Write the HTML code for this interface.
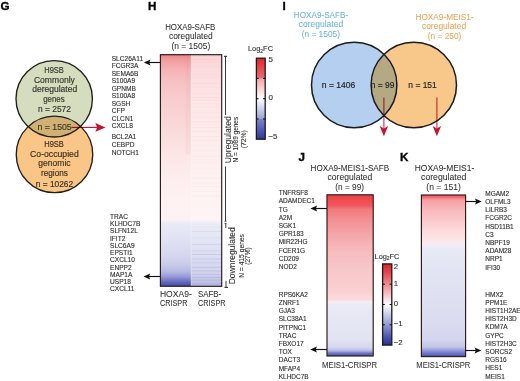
<!DOCTYPE html>
<html><head><meta charset="utf-8"><style>
html,body{margin:0;padding:0;background:#fff;}
svg{display:block;font-family:"Liberation Sans", sans-serif;will-change:transform;}
</style></head><body>
<svg width="520" height="381" viewBox="0 0 520 381">
<defs>
<clipPath id="gtop"><circle cx="54.2" cy="98.75" r="38.2"/></clipPath>
<linearGradient id="hL" x1="0" y1="54.5" x2="0" y2="286" gradientUnits="userSpaceOnUse">
<stop offset="0.0" stop-color="#ee8082"/>
<stop offset="0.0108" stop-color="#f09092"/>
<stop offset="0.0324" stop-color="#f3a2a4"/>
<stop offset="0.067" stop-color="#f5b4b6"/>
<stop offset="0.1188" stop-color="#f6c2c4"/>
<stop offset="0.1965" stop-color="#f8cdcf"/>
<stop offset="0.3261" stop-color="#fadadb"/>
<stop offset="0.4125" stop-color="#fce4e4"/>
<stop offset="0.5205" stop-color="#fdeced"/>
<stop offset="0.6285" stop-color="#fef2f2"/>
<stop offset="0.7127" stop-color="#fdf2f2"/>
<stop offset="0.73" stop-color="#eaeaf6"/>
<stop offset="0.8013" stop-color="#e0e1f3"/>
<stop offset="0.8661" stop-color="#d6d7ef"/>
<stop offset="0.9093" stop-color="#c8cae9"/>
<stop offset="0.9395" stop-color="#b4b7e2"/>
<stop offset="0.9611" stop-color="#9297d3"/>
<stop offset="0.9784" stop-color="#6c72c0"/>
<stop offset="1.0" stop-color="#434aa4"/>
</linearGradient>
<linearGradient id="hR" x1="0" y1="54.5" x2="0" y2="286" gradientUnits="userSpaceOnUse">
<stop offset="0.0" stop-color="#fbd3d5"/>
<stop offset="0.067" stop-color="#fcdcde"/>
<stop offset="0.1965" stop-color="#fde6e7"/>
<stop offset="0.4125" stop-color="#fdeeee"/>
<stop offset="0.6285" stop-color="#fef3f3"/>
<stop offset="0.7127" stop-color="#fef4f4"/>
<stop offset="0.73" stop-color="#ececf7"/>
<stop offset="0.8013" stop-color="#e4e5f4"/>
<stop offset="0.8877" stop-color="#dadcf0"/>
<stop offset="0.9525" stop-color="#cfd1ec"/>
<stop offset="1.0" stop-color="#b8bbe2"/>
</linearGradient>
<linearGradient id="cb" x1="0" y1="0" x2="0" y2="1">
<stop offset="0" stop-color="#e4242b"/>
<stop offset="0.08" stop-color="#ea3840"/>
<stop offset="0.245" stop-color="#ea6a70"/>
<stop offset="0.255" stop-color="#f2a6aa"/>
<stop offset="0.5" stop-color="#ffffff"/>
<stop offset="0.745" stop-color="#9ea2d8"/>
<stop offset="0.755" stop-color="#7c82c8"/>
<stop offset="0.9" stop-color="#4c56b4"/>
<stop offset="1" stop-color="#2e3898"/>
</linearGradient>
<linearGradient id="cb2" x1="0" y1="0" x2="0" y2="1">
<stop offset="0" stop-color="#d8222a"/>
<stop offset="0.1" stop-color="#e2444a"/>
<stop offset="0.25" stop-color="#ee8a90"/>
<stop offset="0.5" stop-color="#ffffff"/>
<stop offset="0.75" stop-color="#9498d2"/>
<stop offset="0.9" stop-color="#4a54b0"/>
<stop offset="1" stop-color="#26328e"/>
</linearGradient>
<clipPath id="iblue"><circle cx="354.2" cy="85.0" r="42.7"/></clipPath>
<linearGradient id="jG" x1="0" y1="194.4" x2="0" y2="356" gradientUnits="userSpaceOnUse">
<stop offset="0.0" stop-color="#ee4046"/>
<stop offset="0.0347" stop-color="#f04a50"/>
<stop offset="0.0718" stop-color="#f2595e"/>
<stop offset="0.0903" stop-color="#f2787c"/>
<stop offset="0.1584" stop-color="#f39094"/>
<stop offset="0.2512" stop-color="#f5a6a9"/>
<stop offset="0.3441" stop-color="#f7bbbd"/>
<stop offset="0.4678" stop-color="#f8c7c9"/>
<stop offset="0.5916" stop-color="#facfd1"/>
<stop offset="0.6504" stop-color="#fbdcdc"/>
<stop offset="0.6677" stop-color="#f6eef2"/>
<stop offset="0.6844" stop-color="#eaeaf5"/>
<stop offset="0.901" stop-color="#e2e3f2"/>
<stop offset="0.9505" stop-color="#d4d6ee"/>
<stop offset="0.9691" stop-color="#b0b4e0"/>
<stop offset="0.9814" stop-color="#7078c4"/>
<stop offset="1.0" stop-color="#4a52aa"/>
</linearGradient>
<linearGradient id="kG" x1="0" y1="194.6" x2="0" y2="356.6" gradientUnits="userSpaceOnUse">
<stop offset="0.0" stop-color="#f4585f"/>
<stop offset="0.0148" stop-color="#f4686e"/>
<stop offset="0.0333" stop-color="#f69ea2"/>
<stop offset="0.0642" stop-color="#f7acaf"/>
<stop offset="0.0951" stop-color="#f8b9bc"/>
<stop offset="0.1568" stop-color="#fac8ca"/>
<stop offset="0.2185" stop-color="#fcdadb"/>
<stop offset="0.2802" stop-color="#fde5e6"/>
<stop offset="0.3049" stop-color="#f4eef4"/>
<stop offset="0.3358" stop-color="#e8e9f6"/>
<stop offset="0.5272" stop-color="#e1e2f2"/>
<stop offset="0.7741" stop-color="#dcdcf0"/>
<stop offset="0.8975" stop-color="#d4d5ee"/>
<stop offset="0.9407" stop-color="#c2c4e8"/>
<stop offset="0.9716" stop-color="#7e86d0"/>
<stop offset="1.0" stop-color="#4650b0"/>
</linearGradient>
</defs>
<rect width="520" height="381" fill="#fff"/>
<text x="0.4" y="9.8" font-size="11.6" fill="#000" font-weight="bold" stroke="#000" stroke-width="0.35">G</text>
<text x="148.0" y="9.9" font-size="11.6" fill="#000" font-weight="bold" stroke="#000" stroke-width="0.35">H</text>
<text x="282.5" y="9.8" font-size="11.6" fill="#000" font-weight="bold" stroke="#000" stroke-width="0.35">I</text>
<text x="298.5" y="161.1" font-size="11.6" fill="#000" font-weight="bold" stroke="#000" stroke-width="0.35">J</text>
<text x="400.0" y="161.1" font-size="11.6" fill="#000" font-weight="bold" stroke="#000" stroke-width="0.35">K</text>
<circle cx="54.2" cy="98.75" r="38.2" fill="#d6ddbe"/>
<circle cx="54.5" cy="154.4" r="38.25" fill="#f9c688"/>
<circle cx="54.5" cy="154.4" r="38.25" fill="#cfb273" clip-path="url(#gtop)"/>
<circle cx="54.2" cy="98.75" r="38.2" fill="none" stroke="#221e18" stroke-width="1.35"/>
<circle cx="54.5" cy="154.4" r="38.25" fill="none" stroke="#221e18" stroke-width="1.35"/>
<text x="44.25" y="72.9" font-size="8.2" fill="#36362c" textLength="19.6" lengthAdjust="spacingAndGlyphs" stroke="#36362c" stroke-width="0.16">H9SB</text>
<text x="33.95" y="82.9" font-size="8.2" fill="#36362c" textLength="40.9" lengthAdjust="spacingAndGlyphs" stroke="#36362c" stroke-width="0.16">Commonly</text>
<text x="32.15" y="92.3" font-size="8.2" fill="#36362c" textLength="45.1" lengthAdjust="spacingAndGlyphs" stroke="#36362c" stroke-width="0.16">deregulated</text>
<text x="43.15" y="102.3" font-size="8.2" fill="#36362c" textLength="21.5" lengthAdjust="spacingAndGlyphs" stroke="#36362c" stroke-width="0.16">genes</text>
<text x="37.95" y="112.3" font-size="8.2" fill="#36362c" textLength="33.0" lengthAdjust="spacingAndGlyphs" stroke="#36362c" stroke-width="0.16">n = 2572</text>
<text x="37.45" y="130.0" font-size="8.2" fill="#463a22" textLength="34.3" lengthAdjust="spacingAndGlyphs" stroke="#463a22" stroke-width="0.16">n = 1505</text>
<text x="44.25" y="147.3" font-size="8.2" fill="#3e2e20" textLength="19.6" lengthAdjust="spacingAndGlyphs" stroke="#3e2e20" stroke-width="0.16">H9SB</text>
<text x="30.05" y="156.6" font-size="8.2" fill="#3e2e20" textLength="48.7" lengthAdjust="spacingAndGlyphs" stroke="#3e2e20" stroke-width="0.16">Co-occupied</text>
<text x="38.35" y="166.3" font-size="8.2" fill="#3e2e20" textLength="32.2" lengthAdjust="spacingAndGlyphs" stroke="#3e2e20" stroke-width="0.16">genomic</text>
<text x="40.95" y="176.2" font-size="8.2" fill="#3e2e20" textLength="27.0" lengthAdjust="spacingAndGlyphs" stroke="#3e2e20" stroke-width="0.16">regions</text>
<text x="35.75" y="186.5" font-size="8.2" fill="#3e2e20" textLength="37.4" lengthAdjust="spacingAndGlyphs" stroke="#3e2e20" stroke-width="0.16">n = 10262</text>
<line x1="71.5" y1="127.4" x2="97" y2="127.4" stroke="#c0183a" stroke-width="1.15" style="mix-blend-mode:multiply"/>
<path d="M105.5,127.4 L95.3,123.1 L97.2,127.4 L95.3,131.7 Z" fill="#c5122f"/>
<text x="165.15" y="30.25" font-size="8.4" fill="#303030" textLength="50.1" lengthAdjust="spacingAndGlyphs" stroke="#303030" stroke-width="0.06">HOXA9-SAFB</text>
<text x="168.95" y="39.25" font-size="8.4" fill="#303030" textLength="43.8" lengthAdjust="spacingAndGlyphs" stroke="#303030" stroke-width="0.06">coregulated</text>
<text x="171.45" y="48.6" font-size="8.4" fill="#303030" textLength="38.8" lengthAdjust="spacingAndGlyphs" stroke="#303030" stroke-width="0.06">(n = 1505)</text>
<rect x="160.4" y="54.5" width="30.6" height="231.5" fill="url(#hL)"/>
<rect x="191" y="54.5" width="30.5" height="231.5" fill="url(#hR)"/>
<rect x="185.5" y="54.5" width="5.5" height="100" fill="#c06060" opacity="0.05"/>
<rect x="190.6" y="54.5" width="0.9" height="231.5" fill="#ffffff" opacity="0.35"/>
<rect x="191.5" y="56.0" width="30" height="0.8" fill="#d07070" opacity="0.05"/>
<rect x="191.5" y="59.1" width="30" height="0.8" fill="#d07070" opacity="0.06"/>
<rect x="191.5" y="61.9" width="30" height="0.8" fill="#d07070" opacity="0.06"/>
<rect x="191.5" y="65.9" width="30" height="0.8" fill="#d07070" opacity="0.03"/>
<rect x="191.5" y="70.4" width="30" height="0.8" fill="#d07070" opacity="0.03"/>
<rect x="191.5" y="74.6" width="30" height="0.8" fill="#d07070" opacity="0.03"/>
<rect x="191.5" y="77.5" width="30" height="0.8" fill="#d07070" opacity="0.05"/>
<rect x="191.5" y="83.3" width="30" height="0.8" fill="#d07070" opacity="0.04"/>
<rect x="191.5" y="86.7" width="30" height="0.8" fill="#d07070" opacity="0.06"/>
<rect x="191.5" y="93.0" width="30" height="0.8" fill="#d07070" opacity="0.06"/>
<rect x="191.5" y="97.1" width="30" height="0.8" fill="#d07070" opacity="0.08"/>
<rect x="191.5" y="99.7" width="30" height="0.8" fill="#d07070" opacity="0.07"/>
<rect x="191.5" y="103.4" width="30" height="0.8" fill="#d07070" opacity="0.04"/>
<rect x="191.5" y="106.4" width="30" height="0.8" fill="#d07070" opacity="0.05"/>
<rect x="191.5" y="112.1" width="30" height="0.8" fill="#d07070" opacity="0.04"/>
<rect x="191.5" y="117.0" width="30" height="0.8" fill="#d07070" opacity="0.06"/>
<rect x="191.5" y="121.0" width="30" height="0.8" fill="#d07070" opacity="0.06"/>
<rect x="191.5" y="123.7" width="30" height="0.8" fill="#d07070" opacity="0.03"/>
<rect x="191.5" y="127.0" width="30" height="0.8" fill="#d07070" opacity="0.06"/>
<rect x="191.5" y="131.2" width="30" height="0.8" fill="#d07070" opacity="0.05"/>
<rect x="191.5" y="136.1" width="30" height="0.8" fill="#d07070" opacity="0.05"/>
<rect x="191.5" y="139.8" width="30" height="0.8" fill="#d07070" opacity="0.07"/>
<rect x="191.5" y="145.1" width="30" height="0.8" fill="#d07070" opacity="0.03"/>
<rect x="191.5" y="149.9" width="30" height="0.8" fill="#d07070" opacity="0.03"/>
<rect x="191.5" y="155.9" width="30" height="0.8" fill="#d07070" opacity="0.04"/>
<rect x="191.5" y="159.5" width="30" height="0.8" fill="#d07070" opacity="0.05"/>
<rect x="191.5" y="162.5" width="30" height="0.8" fill="#d07070" opacity="0.03"/>
<rect x="191.5" y="168.0" width="30" height="0.8" fill="#d07070" opacity="0.02"/>
<rect x="191.5" y="172.5" width="30" height="0.8" fill="#d07070" opacity="0.02"/>
<rect x="191.5" y="177.7" width="30" height="0.8" fill="#d07070" opacity="0.04"/>
<rect x="191.5" y="182.5" width="30" height="0.8" fill="#d07070" opacity="0.04"/>
<rect x="191.5" y="186.2" width="30" height="0.8" fill="#d07070" opacity="0.04"/>
<rect x="191.5" y="191.1" width="30" height="0.8" fill="#d07070" opacity="0.04"/>
<rect x="191.5" y="195.4" width="30" height="0.8" fill="#d07070" opacity="0.04"/>
<rect x="191.5" y="226.5" width="30" height="1" fill="#5058b0" opacity="0.06"/>
<rect x="191.5" y="231.0" width="30" height="1" fill="#5058b0" opacity="0.08"/>
<rect x="191.5" y="237.4" width="30" height="1" fill="#5058b0" opacity="0.06"/>
<rect x="191.5" y="243.9" width="30" height="1" fill="#5058b0" opacity="0.10"/>
<rect x="191.5" y="250.3" width="30" height="1" fill="#5058b0" opacity="0.11"/>
<rect x="191.5" y="254.0" width="30" height="1" fill="#5058b0" opacity="0.13"/>
<rect x="191.5" y="258.5" width="30" height="1" fill="#5058b0" opacity="0.13"/>
<rect x="191.5" y="262.2" width="30" height="1" fill="#5058b0" opacity="0.11"/>
<rect x="191.5" y="266.8" width="30" height="1" fill="#5058b0" opacity="0.13"/>
<rect x="191.5" y="270.5" width="30" height="1" fill="#5058b0" opacity="0.14"/>
<rect x="191.5" y="274.1" width="30" height="1" fill="#5058b0" opacity="0.12"/>
<rect x="191.5" y="276.9" width="30" height="1" fill="#5058b0" opacity="0.15"/>
<rect x="191.5" y="279.6" width="30" height="1" fill="#5058b0" opacity="0.14"/>
<rect x="191.5" y="283.3" width="30" height="1" fill="#5058b0" opacity="0.14"/>
<rect x="160.4" y="54.7" width="61.3" height="231.6" fill="none" stroke="#231a1a" stroke-width="1.15"/>
<text x="111.7" y="60.7" font-size="6.6" fill="#2e2e2e" stroke="#2e2e2e" stroke-width="0.12">SLC26A11</text>
<text x="111.7" y="68.2" font-size="6.6" fill="#2e2e2e" stroke="#2e2e2e" stroke-width="0.12">FCGR3A</text>
<text x="111.7" y="75.7" font-size="6.6" fill="#2e2e2e" stroke="#2e2e2e" stroke-width="0.12">SEMA6B</text>
<text x="111.7" y="83.2" font-size="6.6" fill="#2e2e2e" stroke="#2e2e2e" stroke-width="0.12">S100A9</text>
<text x="111.7" y="90.7" font-size="6.6" fill="#2e2e2e" stroke="#2e2e2e" stroke-width="0.12">GPNMB</text>
<text x="111.7" y="98.2" font-size="6.6" fill="#2e2e2e" stroke="#2e2e2e" stroke-width="0.12">S100A8</text>
<text x="111.7" y="105.7" font-size="6.6" fill="#2e2e2e" stroke="#2e2e2e" stroke-width="0.12">SGSH</text>
<text x="111.7" y="113.2" font-size="6.6" fill="#2e2e2e" stroke="#2e2e2e" stroke-width="0.12">CFP</text>
<text x="111.7" y="120.7" font-size="6.6" fill="#2e2e2e" stroke="#2e2e2e" stroke-width="0.12">CLCN1</text>
<text x="111.7" y="128.2" font-size="6.6" fill="#2e2e2e" stroke="#2e2e2e" stroke-width="0.12">CXCL8</text>
<text x="111.7" y="138.8" font-size="6.6" fill="#2e2e2e" stroke="#2e2e2e" stroke-width="0.12">BCL2A1</text>
<text x="111.7" y="146.9" font-size="6.6" fill="#2e2e2e" stroke="#2e2e2e" stroke-width="0.12">CEBPD</text>
<text x="111.7" y="155.0" font-size="6.6" fill="#2e2e2e" stroke="#2e2e2e" stroke-width="0.12">NOTCH1</text>
<text x="110.0" y="218.8" font-size="6.6" fill="#2e2e2e" stroke="#2e2e2e" stroke-width="0.12">TRAC</text>
<text x="110.0" y="226.05" font-size="6.6" fill="#2e2e2e" stroke="#2e2e2e" stroke-width="0.12">KLHDC7B</text>
<text x="110.0" y="233.3" font-size="6.6" fill="#2e2e2e" stroke="#2e2e2e" stroke-width="0.12">SLFN12L</text>
<text x="110.0" y="240.55" font-size="6.6" fill="#2e2e2e" stroke="#2e2e2e" stroke-width="0.12">IFIT2</text>
<text x="110.0" y="247.8" font-size="6.6" fill="#2e2e2e" stroke="#2e2e2e" stroke-width="0.12">SLC6A9</text>
<text x="110.0" y="255.05" font-size="6.6" fill="#2e2e2e" stroke="#2e2e2e" stroke-width="0.12">EPSTI1</text>
<text x="110.0" y="262.3" font-size="6.6" fill="#2e2e2e" stroke="#2e2e2e" stroke-width="0.12">CXCL10</text>
<text x="110.0" y="269.55" font-size="6.6" fill="#2e2e2e" stroke="#2e2e2e" stroke-width="0.12">ENPP2</text>
<text x="110.0" y="276.8" font-size="6.6" fill="#2e2e2e" stroke="#2e2e2e" stroke-width="0.12">MAP1A</text>
<text x="110.0" y="284.05" font-size="6.6" fill="#2e2e2e" stroke="#2e2e2e" stroke-width="0.12">USP18</text>
<text x="110.0" y="291.3" font-size="6.6" fill="#2e2e2e" stroke="#2e2e2e" stroke-width="0.12">CXCL11</text>
<line x1="147.8" y1="62.5" x2="160" y2="62.5" stroke="#111" stroke-width="1.15"/>
<path d="M143.8,62.5 L150.5,59.6 L149.3,62.5 L150.5,65.4 Z" fill="#111"/>
<line x1="147.5" y1="276.5" x2="160" y2="276.5" stroke="#111" stroke-width="1.15"/>
<path d="M143.5,276.5 L150.2,273.6 L149.0,276.5 L150.2,279.4 Z" fill="#111"/>
<line x1="225.5" y1="56.3" x2="225.5" y2="115" stroke="#222" stroke-width="0.9"/>
<line x1="225.5" y1="166.5" x2="225.5" y2="221.2" stroke="#222" stroke-width="0.9"/>
<line x1="224" y1="56.3" x2="227" y2="56.3" stroke="#222" stroke-width="1"/>
<line x1="224.5" y1="221.2" x2="226.5" y2="221.2" stroke="#222" stroke-width="0.8"/>
<line x1="224.5" y1="223.3" x2="226.5" y2="223.3" stroke="#222" stroke-width="0.8"/>
<line x1="225.8" y1="223.3" x2="225.8" y2="228" stroke="#222" stroke-width="0.9"/>
<line x1="226" y1="280.8" x2="226" y2="287.4" stroke="#222" stroke-width="0.9"/>
<line x1="224.5" y1="287.4" x2="228" y2="287.4" stroke="#222" stroke-width="1"/>
<text transform="translate(230.9,163.15) rotate(-90)" x="0" y="0" font-size="8.2" fill="#303030" stroke="#303030" stroke-width="0.06" textLength="46.9" lengthAdjust="spacingAndGlyphs">Upregulated</text>
<text transform="translate(238.4,162.54999999999998) rotate(-90)" x="0" y="0" font-size="6.4" fill="#303030" stroke="#303030" stroke-width="0.1" textLength="45.7" lengthAdjust="spacingAndGlyphs">N = 1089 genes</text>
<text transform="translate(245.6,148.15) rotate(-90)" x="0" y="0" font-size="6.4" fill="#303030" stroke="#303030" stroke-width="0.1" textLength="18.0" lengthAdjust="spacingAndGlyphs">(72%)</text>
<text transform="translate(235.0,284.25) rotate(-90)" x="0" y="0" font-size="8.2" fill="#303030" stroke="#303030" stroke-width="0.06" textLength="57.0" lengthAdjust="spacingAndGlyphs">Downregulated</text>
<text transform="translate(244.1,277.85) rotate(-90)" x="0" y="0" font-size="6.4" fill="#303030" stroke="#303030" stroke-width="0.1" textLength="43.8" lengthAdjust="spacingAndGlyphs">N = 415 genes</text>
<text transform="translate(250.3,264.65000000000003) rotate(-90)" x="0" y="0" font-size="6.4" fill="#303030" stroke="#303030" stroke-width="0.1" textLength="17.2" lengthAdjust="spacingAndGlyphs">(27%)</text>
<text x="159.95" y="296.8" font-size="8.4" fill="#303030" textLength="31.8" lengthAdjust="spacingAndGlyphs" stroke="#303030" stroke-width="0.06">HOXA9-</text>
<text x="159.95" y="306.3" font-size="8.4" fill="#303030" textLength="27.5" lengthAdjust="spacingAndGlyphs" stroke="#303030" stroke-width="0.06">CRISPR</text>
<text x="197.95" y="296.8" font-size="8.4" fill="#303030" textLength="23.3" lengthAdjust="spacingAndGlyphs" stroke="#303030" stroke-width="0.06">SAFB-</text>
<text x="197.95" y="306.3" font-size="8.4" fill="#303030" textLength="27.6" lengthAdjust="spacingAndGlyphs" stroke="#303030" stroke-width="0.06">CRISPR</text>
<rect x="256.4" y="58.2" width="8.8" height="81" fill="url(#cb)" stroke="#1a1a1a" stroke-width="1.3"/>
<line x1="256.4" y1="78.45" x2="258.59999999999997" y2="78.45" stroke="#111" stroke-width="1.1"/>
<line x1="263.0" y1="78.45" x2="265.2" y2="78.45" stroke="#111" stroke-width="1.1"/>
<line x1="256.4" y1="98.7" x2="258.59999999999997" y2="98.7" stroke="#111" stroke-width="1.1"/>
<line x1="263.0" y1="98.7" x2="265.2" y2="98.7" stroke="#111" stroke-width="1.1"/>
<line x1="256.4" y1="118.95" x2="258.59999999999997" y2="118.95" stroke="#111" stroke-width="1.1"/>
<line x1="263.0" y1="118.95" x2="265.2" y2="118.95" stroke="#111" stroke-width="1.1"/>
<text x="268.4" y="61.8" font-size="8" fill="#333" stroke="#333" stroke-width="0.12">5</text>
<text x="268.4" y="100.3" font-size="8" fill="#333" stroke="#333" stroke-width="0.12">0</text>
<text x="268.4" y="138.6" font-size="8" fill="#333" stroke="#333" stroke-width="0.12">−5</text>
<text x="248" y="51.2" font-size="6.9" fill="#333" stroke="#333" stroke-width="0.12" textLength="25" lengthAdjust="spacingAndGlyphs">Log<tspan font-size="4.6" dy="1.6">2</tspan><tspan dy="-1.6">FC</tspan></text>
<circle cx="354.2" cy="85.0" r="42.7" fill="#b4cfef"/>
<circle cx="413.8" cy="85.0" r="42.7" fill="#f8c78a"/>
<circle cx="413.8" cy="85.0" r="42.7" fill="#b5a984" clip-path="url(#iblue)"/>
<circle cx="354.2" cy="85.0" r="42.7" fill="none" stroke="#1c1c20" stroke-width="1.5"/>
<circle cx="413.8" cy="85.0" r="42.7" fill="none" stroke="#1c1c20" stroke-width="1.5"/>
<text x="293.85" y="17.8" font-size="8.3" fill="#6ab4e2" textLength="54.3" lengthAdjust="spacingAndGlyphs" stroke="#6ab4e2" stroke-width="0.06">HOXA9-SAFB-</text>
<text x="298.75" y="27.2" font-size="8.3" fill="#6ab4e2" textLength="44.4" lengthAdjust="spacingAndGlyphs" stroke="#6ab4e2" stroke-width="0.06">coregulated</text>
<text x="301.65" y="36.8" font-size="8.3" fill="#6ab4e2" textLength="38.4" lengthAdjust="spacingAndGlyphs" stroke="#6ab4e2" stroke-width="0.06">(n = 1505)</text>
<text x="415.55" y="19.8" font-size="8.3" fill="#eea255" textLength="58.0" lengthAdjust="spacingAndGlyphs" stroke="#eea255" stroke-width="0.06">HOXA9-MEIS1-</text>
<text x="421.95" y="29.4" font-size="8.3" fill="#eea255" textLength="44.2" lengthAdjust="spacingAndGlyphs" stroke="#eea255" stroke-width="0.06">coregulated</text>
<text x="427.75" y="38.9" font-size="8.3" fill="#eea255" textLength="33.6" lengthAdjust="spacingAndGlyphs" stroke="#eea255" stroke-width="0.06">(n = 250)</text>
<text x="321.85" y="87.6" font-size="8.3" fill="#222" textLength="33.4" lengthAdjust="spacingAndGlyphs" stroke="#222" stroke-width="0.16">n = 1406</text>
<text x="370.75" y="87.7" font-size="8.3" fill="#222" textLength="23.7" lengthAdjust="spacingAndGlyphs" stroke="#222" stroke-width="0.16">n = 99</text>
<text x="408.35" y="87.7" font-size="8.3" fill="#222" textLength="28.4" lengthAdjust="spacingAndGlyphs" stroke="#222" stroke-width="0.16">n = 151</text>
<line x1="383.9" y1="97.5" x2="383.9" y2="128.3" stroke="#c8304c" stroke-width="1.1" style="mix-blend-mode:multiply"/>
<path d="M383.9,136.3 L379.7,126.10000000000001 L383.9,128.5 L388.09999999999997,126.10000000000001 Z" fill="#c5122f"/>
<line x1="436.9" y1="97.5" x2="436.9" y2="128.3" stroke="#c8304c" stroke-width="1.1" style="mix-blend-mode:multiply"/>
<path d="M436.9,136.3 L432.7,126.10000000000001 L436.9,128.5 L441.09999999999997,126.10000000000001 Z" fill="#c5122f"/>
<text x="310.55" y="170.7" font-size="8.3" fill="#303030" textLength="78.6" lengthAdjust="spacingAndGlyphs" stroke="#303030" stroke-width="0.06">HOXA9-MEIS1-SAFB</text>
<text x="327.55" y="179.6" font-size="8.3" fill="#303030" textLength="44.8" lengthAdjust="spacingAndGlyphs" stroke="#303030" stroke-width="0.06">coregulated</text>
<text x="335.35" y="189.6" font-size="8.3" fill="#303030" textLength="28.7" lengthAdjust="spacingAndGlyphs" stroke="#303030" stroke-width="0.06">(n = 99)</text>
<rect x="327" y="194.8" width="46.2" height="161.2" fill="url(#jG)" stroke="#2a1818" stroke-width="1.15"/>
<text x="278.7" y="195.2" font-size="6.5" fill="#2e2e2e" stroke="#2e2e2e" stroke-width="0.12">TNFRSF8</text>
<text x="278.7" y="203.4" font-size="6.5" fill="#2e2e2e" stroke="#2e2e2e" stroke-width="0.12">ADAMDEC1</text>
<text x="278.7" y="211.6" font-size="6.5" fill="#2e2e2e" stroke="#2e2e2e" stroke-width="0.12">TG</text>
<text x="278.7" y="219.8" font-size="6.5" fill="#2e2e2e" stroke="#2e2e2e" stroke-width="0.12">A2M</text>
<text x="278.7" y="228.0" font-size="6.5" fill="#2e2e2e" stroke="#2e2e2e" stroke-width="0.12">SGK1</text>
<text x="278.7" y="236.2" font-size="6.5" fill="#2e2e2e" stroke="#2e2e2e" stroke-width="0.12">GPR183</text>
<text x="278.7" y="244.4" font-size="6.5" fill="#2e2e2e" stroke="#2e2e2e" stroke-width="0.12">MIR22HG</text>
<text x="278.7" y="252.6" font-size="6.5" fill="#2e2e2e" stroke="#2e2e2e" stroke-width="0.12">FCER1G</text>
<text x="278.7" y="260.8" font-size="6.5" fill="#2e2e2e" stroke="#2e2e2e" stroke-width="0.12">CD209</text>
<text x="278.7" y="269.0" font-size="6.5" fill="#2e2e2e" stroke="#2e2e2e" stroke-width="0.12">NOD2</text>
<text x="278.7" y="296.8" font-size="6.5" fill="#2e2e2e" stroke="#2e2e2e" stroke-width="0.12">RPS6KA2</text>
<text x="278.7" y="305.0" font-size="6.5" fill="#2e2e2e" stroke="#2e2e2e" stroke-width="0.12">ZNRF1</text>
<text x="278.7" y="313.2" font-size="6.5" fill="#2e2e2e" stroke="#2e2e2e" stroke-width="0.12">GJA3</text>
<text x="278.7" y="321.4" font-size="6.5" fill="#2e2e2e" stroke="#2e2e2e" stroke-width="0.12">SLC38A1</text>
<text x="278.7" y="329.6" font-size="6.5" fill="#2e2e2e" stroke="#2e2e2e" stroke-width="0.12">PITPNC1</text>
<text x="278.7" y="337.8" font-size="6.5" fill="#2e2e2e" stroke="#2e2e2e" stroke-width="0.12">TRAC</text>
<text x="278.7" y="346.0" font-size="6.5" fill="#2e2e2e" stroke="#2e2e2e" stroke-width="0.12">FBXO17</text>
<text x="278.7" y="354.2" font-size="6.5" fill="#2e2e2e" stroke="#2e2e2e" stroke-width="0.12">TOX</text>
<text x="278.7" y="362.4" font-size="6.5" fill="#2e2e2e" stroke="#2e2e2e" stroke-width="0.12">DACT3</text>
<text x="278.7" y="370.6" font-size="6.5" fill="#2e2e2e" stroke="#2e2e2e" stroke-width="0.12">MFAP4</text>
<text x="278.7" y="378.8" font-size="6.5" fill="#2e2e2e" stroke="#2e2e2e" stroke-width="0.12">KLHDC7B</text>
<line x1="314.4" y1="208.5" x2="327" y2="208.5" stroke="#111" stroke-width="1.15"/>
<path d="M310.4,208.5 L317.09999999999997,205.6 L315.9,208.5 L317.09999999999997,211.4 Z" fill="#111"/>
<line x1="314.2" y1="349.5" x2="327" y2="349.5" stroke="#111" stroke-width="1.15"/>
<path d="M310.2,349.5 L316.9,346.6 L315.7,349.5 L316.9,352.4 Z" fill="#111"/>
<text x="322.05" y="367.5" font-size="8.3" fill="#303030" textLength="55.0" lengthAdjust="spacingAndGlyphs" stroke="#303030" stroke-width="0.06">MEIS1-CRISPR</text>
<rect x="382.6" y="263.9" width="9.2" height="81.2" fill="url(#cb2)" stroke="#1a1a1a" stroke-width="1.3"/>
<line x1="382.6" y1="284.2" x2="384.8" y2="284.2" stroke="#111" stroke-width="1.1"/>
<line x1="389.6" y1="284.2" x2="391.8" y2="284.2" stroke="#111" stroke-width="1.1"/>
<line x1="382.6" y1="304.5" x2="384.8" y2="304.5" stroke="#111" stroke-width="1.1"/>
<line x1="389.6" y1="304.5" x2="391.8" y2="304.5" stroke="#111" stroke-width="1.1"/>
<line x1="382.6" y1="324.8" x2="384.8" y2="324.8" stroke="#111" stroke-width="1.1"/>
<line x1="389.6" y1="324.8" x2="391.8" y2="324.8" stroke="#111" stroke-width="1.1"/>
<text x="393.8" y="269.2" font-size="7.8" fill="#333" stroke="#333" stroke-width="0.12">2</text>
<text x="393.8" y="286.4" font-size="7.8" fill="#333" stroke="#333" stroke-width="0.12">1</text>
<text x="393.8" y="306.1" font-size="7.8" fill="#333" stroke="#333" stroke-width="0.12">0</text>
<text x="393.8" y="326.0" font-size="7.8" fill="#333" stroke="#333" stroke-width="0.12">−1</text>
<text x="393.8" y="345.4" font-size="7.8" fill="#333" stroke="#333" stroke-width="0.12">−2</text>
<text x="374.6" y="258.6" font-size="6.9" fill="#333" stroke="#333" stroke-width="0.12" textLength="24.8" lengthAdjust="spacingAndGlyphs">Log<tspan font-size="4.6" dy="1.6">2</tspan><tspan dy="-1.6">FC</tspan></text>
<text x="414.75" y="171.0" font-size="8.3" fill="#303030" textLength="59.5" lengthAdjust="spacingAndGlyphs" stroke="#303030" stroke-width="0.06">HOXA9-MEIS1-</text>
<text x="421.05" y="179.8" font-size="8.3" fill="#303030" textLength="45.4" lengthAdjust="spacingAndGlyphs" stroke="#303030" stroke-width="0.06">coregulated</text>
<text x="426.35" y="189.6" font-size="8.3" fill="#303030" textLength="34.4" lengthAdjust="spacingAndGlyphs" stroke="#303030" stroke-width="0.06">(n = 151)</text>
<rect x="421.4" y="195" width="44.2" height="161.6" fill="url(#kG)" stroke="#2a1818" stroke-width="1.15"/>
<text x="485.3" y="195.8" font-size="6.5" fill="#2e2e2e" stroke="#2e2e2e" stroke-width="0.12">MGAM2</text>
<text x="485.3" y="204.0" font-size="6.5" fill="#2e2e2e" stroke="#2e2e2e" stroke-width="0.12">OLFML3</text>
<text x="485.3" y="212.2" font-size="6.5" fill="#2e2e2e" stroke="#2e2e2e" stroke-width="0.12">LILRB3</text>
<text x="485.3" y="220.4" font-size="6.5" fill="#2e2e2e" stroke="#2e2e2e" stroke-width="0.12">FCGR2C</text>
<text x="485.3" y="228.6" font-size="6.5" fill="#2e2e2e" stroke="#2e2e2e" stroke-width="0.12">HSD11B1</text>
<text x="485.3" y="236.8" font-size="6.5" fill="#2e2e2e" stroke="#2e2e2e" stroke-width="0.12">C3</text>
<text x="485.3" y="245.0" font-size="6.5" fill="#2e2e2e" stroke="#2e2e2e" stroke-width="0.12">NBPF19</text>
<text x="485.3" y="253.2" font-size="6.5" fill="#2e2e2e" stroke="#2e2e2e" stroke-width="0.12">ADAM28</text>
<text x="485.3" y="261.4" font-size="6.5" fill="#2e2e2e" stroke="#2e2e2e" stroke-width="0.12">NRP1</text>
<text x="485.3" y="269.6" font-size="6.5" fill="#2e2e2e" stroke="#2e2e2e" stroke-width="0.12">IFI30</text>
<text x="485.3" y="296.6" font-size="6.5" fill="#2e2e2e" stroke="#2e2e2e" stroke-width="0.12">HMX2</text>
<text x="485.3" y="304.8" font-size="6.5" fill="#2e2e2e" stroke="#2e2e2e" stroke-width="0.12">PPM1E</text>
<text x="485.3" y="313.0" font-size="6.5" fill="#2e2e2e" stroke="#2e2e2e" stroke-width="0.12">HIST1H2AE</text>
<text x="485.3" y="321.2" font-size="6.5" fill="#2e2e2e" stroke="#2e2e2e" stroke-width="0.12">HIST2H3D</text>
<text x="485.3" y="329.4" font-size="6.5" fill="#2e2e2e" stroke="#2e2e2e" stroke-width="0.12">KDM7A</text>
<text x="485.3" y="337.6" font-size="6.5" fill="#2e2e2e" stroke="#2e2e2e" stroke-width="0.12">GYPC</text>
<text x="485.3" y="345.8" font-size="6.5" fill="#2e2e2e" stroke="#2e2e2e" stroke-width="0.12">HIST2H3C</text>
<text x="485.3" y="354.0" font-size="6.5" fill="#2e2e2e" stroke="#2e2e2e" stroke-width="0.12">SORCS2</text>
<text x="485.3" y="362.2" font-size="6.5" fill="#2e2e2e" stroke="#2e2e2e" stroke-width="0.12">RGS16</text>
<text x="485.3" y="370.4" font-size="6.5" fill="#2e2e2e" stroke="#2e2e2e" stroke-width="0.12">HES1</text>
<text x="485.3" y="378.6" font-size="6.5" fill="#2e2e2e" stroke="#2e2e2e" stroke-width="0.12">MEIS1</text>
<line x1="465.6" y1="201.5" x2="477.7" y2="201.5" stroke="#111" stroke-width="1.15"/>
<path d="M481.7,201.5 L475.0,198.6 L476.2,201.5 L475.0,204.4 Z" fill="#111"/>
<line x1="465.6" y1="350.5" x2="477.3" y2="350.5" stroke="#111" stroke-width="1.15"/>
<path d="M481.3,350.5 L474.6,347.6 L475.8,350.5 L474.6,353.4 Z" fill="#111"/>
<text x="416.35" y="367.7" font-size="8.3" fill="#303030" textLength="53.9" lengthAdjust="spacingAndGlyphs" stroke="#303030" stroke-width="0.06">MEIS1-CRISPR</text>
</svg>
</body></html>
